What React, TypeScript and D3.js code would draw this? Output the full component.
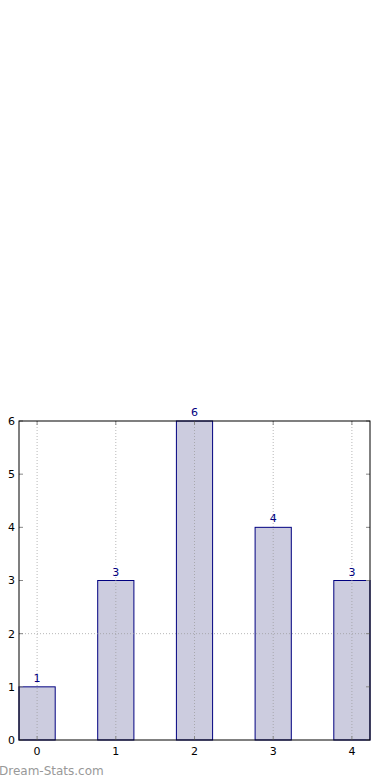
import React from "react";
import * as d3 from "d3";

const categories = [0, 1, 2, 3, 4];
const values = [1, 3, 6, 4, 3];
const yTicks = [0, 1, 2, 3, 4, 5, 6];
const hGrid = [2];

const App = () => {
  const width = 390;
  const height = 780;
  const left = 19;
  const right = 370;
  const top = 421;
  const bottom = 740;
  const barWidth = 0.46;

  const x = d3.scaleLinear().domain([-0.23, 4.23]).range([left, right]);
  const y = d3.scaleLinear().domain([0, 6]).range([bottom, top]);

  const font = "DejaVu Sans, sans-serif";

  return (
    <svg
      width={width}
      height={height}
      style={{ position: "absolute", left: 0, top: 0, background: "white" }}
    >
      {/* bars */}
      {values.map((v, i) => (
        <rect
          key={"b" + i}
          x={x(categories[i] - barWidth / 2)}
          y={y(v)}
          width={x(barWidth) - x(0)}
          height={y(0) - y(v)}
          fill="#ccccdf"
          stroke="#000080"
          strokeWidth={1}
        />
      ))}

      {/* grid */}
      {categories.map((c) => (
        <line
          key={"gx" + c}
          x1={x(c)}
          x2={x(c)}
          y1={top}
          y2={bottom}
          stroke="#999999"
          strokeOpacity={0.7}
          strokeDasharray="1,2"
        />
      ))}
      {hGrid.map((g) => (
        <line
          key={"gy" + g}
          x1={left}
          x2={right}
          y1={y(g)}
          y2={y(g)}
          stroke="#999999"
          strokeOpacity={0.7}
          strokeDasharray="1,2"
        />
      ))}

      {/* value labels */}
      {values.map((v, i) => (
        <text
          key={"t" + i}
          x={x(categories[i])}
          y={y(v) - 5}
          textAnchor="middle"
          fontFamily={font}
          fontSize={11}
          fill="#000080"
        >
          {v}
        </text>
      ))}

      {/* ticks */}
      {yTicks.map((t) => (
        <g key={"yt" + t}>
          <line x1={left} x2={left + 4} y1={y(t)} y2={y(t)} stroke="#888" />
          <line x1={right - 4} x2={right} y1={y(t)} y2={y(t)} stroke="#888" />
          <text
            x={left - 4}
            y={y(t)}
            dy="0.35em"
            textAnchor="end"
            fontFamily={font}
            fontSize={11}
            fill="#000"
          >
            {t}
          </text>
        </g>
      ))}
      {categories.map((c) => (
        <g key={"xt" + c}>
          <line x1={x(c)} x2={x(c)} y1={bottom} y2={bottom - 4} stroke="#888" />
          <line x1={x(c)} x2={x(c)} y1={top} y2={top + 4} stroke="#888" />
          <text
            x={x(c)}
            y={bottom + 15}
            textAnchor="middle"
            fontFamily={font}
            fontSize={11}
            fill="#000"
          >
            {c}
          </text>
        </g>
      ))}

      {/* frame */}
      <rect
        x={left}
        y={top}
        width={right - left}
        height={bottom - top}
        fill="none"
        stroke="#000"
        strokeWidth={1}
      />

      <text
        x={-1}
        y={775}
        fontFamily={font}
        fontSize={12}
        fill="#999999"
      >
        Dream-Stats.com
      </text>
    </svg>
  );
};

export default App;
